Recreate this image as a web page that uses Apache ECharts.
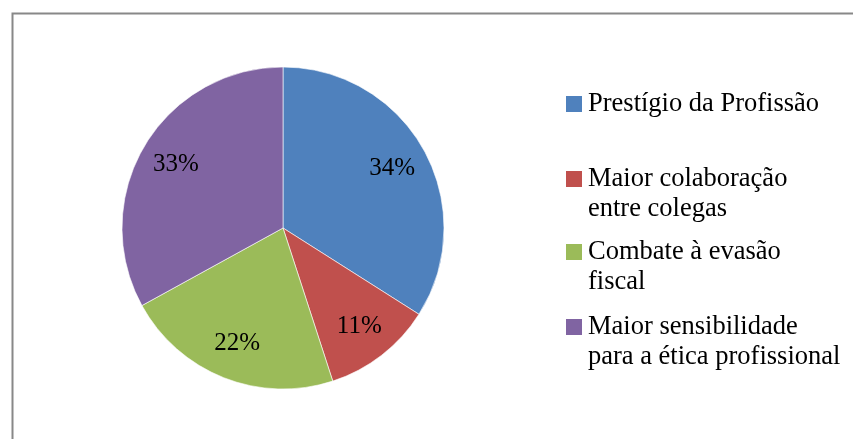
<!DOCTYPE html>
<html>
<head>
<meta charset="utf-8">
<script src="https://cdn.jsdelivr.net/npm/echarts@6/dist/echarts.min.js"></script>
<style>
  html, body { margin: 0; padding: 0; background: #fff; }
  #chart { width: 853px; height: 439px; }
</style>
</head>
<body>
<div id="chart"></div>
<script>
// Reasons given, share of answers (%)
const categories = [
  'Prestígio da Profissão',
  'Maior colaboração entre colegas',
  'Combate à evasão fiscal',
  'Maior sensibilidade para a ética profissional'
];
const shares = [34, 11, 22, 33];
// Legend text, broken onto lines as printed
const legendText = [
  'Prestígio da Profissão',
  'Maior colaboração\nentre colegas',
  'Combate à evasão\nfiscal',
  'Maior sensibilidade\npara a ética profissional'
];
const colors = ['#4F81BD', '#C0504D', '#9BBB59', '#8064A2'];

const FONT = '"Liberation Serif", "Times New Roman", serif';
const pieData = categories.map((name, i) => ({
  name: name,
  value: shares[i],
  itemStyle: { color: colors[i] }
}));

// One legend block per entry so each marker sits beside the first text line.
// Multi-line entries get a leading empty line so the block stays centred on the marker.
const legendTops = [89, 134, 207, 282];
const legends = categories.map((name, i) => {
  const multi = legendText[i].indexOf('\n') >= 0;
  return {
    orient: 'vertical',
    left: 564,
    top: legendTops[i],
    padding: 0,
    data: [{ name: name, icon: 'rect' }],
    itemWidth: 18,
    itemHeight: 18,
    selectedMode: false,
    formatter: () => (multi ? '\n' : '') + legendText[i],
    textStyle: {
      fontFamily: FONT,
      fontSize: 26.5,
      color: '#000',
      lineHeight: 30
    }
  };
});

const chart = echarts.init(document.getElementById('chart'), null, { renderer: 'canvas' });
chart.setOption({
  backgroundColor: '#fff',
  animation: false,
  graphic: [{
    type: 'rect',
    left: 10,
    top: 11,
    shape: { width: 900, height: 500 },
    style: { fill: 'none', stroke: '#888', lineWidth: 2 },
    z: -10
  }],
  legend: legends,
  series: [
    {
      type: 'pie',
      center: [283, 228],
      radius: [0, 161],
      startAngle: 90,
      clockwise: true,
      silent: true,
      label: { show: false },
      labelLine: { show: false },
      itemStyle: { borderColor: '#fff', borderWidth: 0.6 },
      data: pieData
    },
    {
      // transparent ring carrying the percentage labels
      type: 'pie',
      center: [283, 228],
      radius: [82, 161],
      startAngle: 90,
      clockwise: true,
      silent: true,
      itemStyle: { color: 'rgba(0,0,0,0)' },
      label: {
        show: true,
        position: 'inside',
        formatter: '{c}%',
        fontFamily: FONT,
        fontSize: 25,
        color: '#000'
      },
      labelLine: { show: false },
      data: categories.map((name, i) => ({ name: name, value: shares[i] }))
    }
  ]
});
</script>
</body>
</html>
